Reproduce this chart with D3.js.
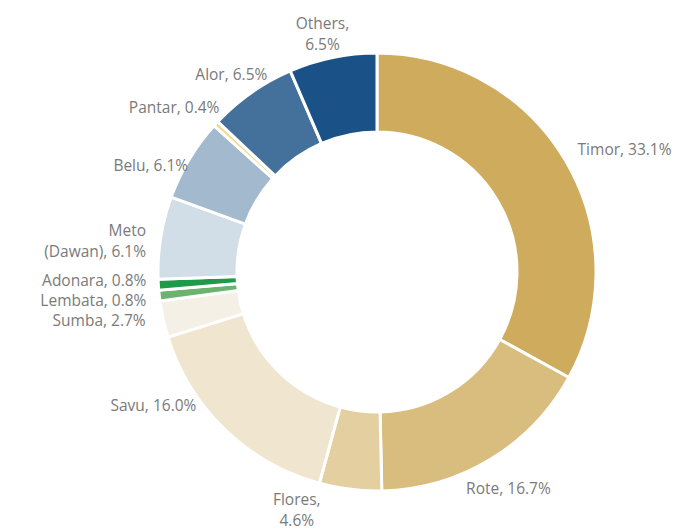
<!DOCTYPE html>
<html>
<head>
<meta charset="utf-8">
<script src="https://cdn.jsdelivr.net/npm/d3@7"></script>
<style>
  body { margin: 0; background: #fff; }
  .slice-label { font-family: "Open Sans", sans-serif; font-size: 15.5px; fill: #7a7a7a; }
</style>
</head>
<body>
<svg id="chart"></svg>
<script>
const regions = ['Timor', 'Rote', 'Flores', 'Savu', 'Sumba', 'Lembata', 'Adonara', 'Meto (Dawan)', 'Belu', 'Pantar', 'Alor', 'Others']
const shares = [33.1, 16.7, 4.6, 16.0, 2.7, 0.8, 0.8, 6.1, 6.1, 0.4, 6.5, 6.5]
const colors = ['#cfab5e', '#d8bd7e', '#e4cfa1', '#f0e5cf', '#f5f0e5', '#6bb36f', '#1f9a48',
                '#d1dde7', '#a3b9ce', '#f3d98b', '#43719c', '#1a5187']

// label placement: anchor, nudge from label arc, line breaks
const labelLayout = {
    'Timor':        {anchor: 'start',  dx: -6,  dy: 0},
    'Rote':         {anchor: 'middle', dx: 7,   dy: 11},
    'Flores':       {anchor: 'middle', dx: -51, dy: 0,   lines: ['Flores,', '4.6%']},
    'Savu':         {anchor: 'end',    dx: -14, dy: -39},
    'Sumba':        {anchor: 'end',    dx: 3,   dy: -3},
    'Lembata':      {anchor: 'end',    dx: 8,   dy: 3},
    'Adonara':      {anchor: 'end',    dx: 9,   dy: -5},
    'Meto (Dawan)': {anchor: 'end',    dx: 6,   dy: 7,   lines: ['Meto', '(Dawan), 6.1%']},
    'Belu':         {anchor: 'end',    dx: 17,  dy: 17},
    'Pantar':       {anchor: 'end',    dx: 19,  dy: -2},
    'Alor':         {anchor: 'end',    dx: 28,  dy: -1},
    'Others':       {anchor: 'middle', dx: -6,  dy: -3,  lines: ['Others,', '6.5%']}
}

const width = 679, height = 531
const cx = 377, cy = 272
const innerR = 140, outerR = 219, labelR = 240
const lineH = 21

const data = regions.map((r, i) => ({region: r, value: shares[i], color: colors[i]}))

const svg = d3.select('#chart')
    .attr('width', width)
    .attr('height', height)

const g = svg.append('g')
    .attr('transform', `translate(${cx},${cy})`)

const pie = d3.pie()
    .sort(null)
    .value(d => d.value)

const arc = d3.arc()
    .innerRadius(innerR)
    .outerRadius(outerR)

const labelArc = d3.arc()
    .innerRadius(labelR)
    .outerRadius(labelR)

const arcs = pie(data)

g.selectAll('path.slice')
    .data(arcs)
    .join('path')
    .attr('class', 'slice')
    .attr('d', arc)
    .attr('fill', d => d.data.color)
    .attr('stroke', '#fff')
    .attr('stroke-width', 3)
    .attr('stroke-linejoin', 'miter')

const labels = g.selectAll('text.slice-label')
    .data(arcs)
    .join('text')
    .attr('class', 'slice-label')
    .attr('text-anchor', d => labelLayout[d.data.region].anchor)
    .attr('transform', d => {
        const [x, y] = labelArc.centroid(d)
        const L = labelLayout[d.data.region]
        return `translate(${x + L.dx},${y + L.dy})`
    })

labels.each(function(d) {
    const L = labelLayout[d.data.region]
    const lines = L.lines || [`${d.data.region}, ${d.data.value.toFixed(1)}%`]
    const t = d3.select(this)
    lines.forEach((line, i) => {
        t.append('tspan')
            .attr('x', 0)
            .attr('y', (i - (lines.length - 1) / 2) * lineH)
            .attr('dy', '0.35em')
            .text(line)
    })
})
</script>
</body>
</html>
